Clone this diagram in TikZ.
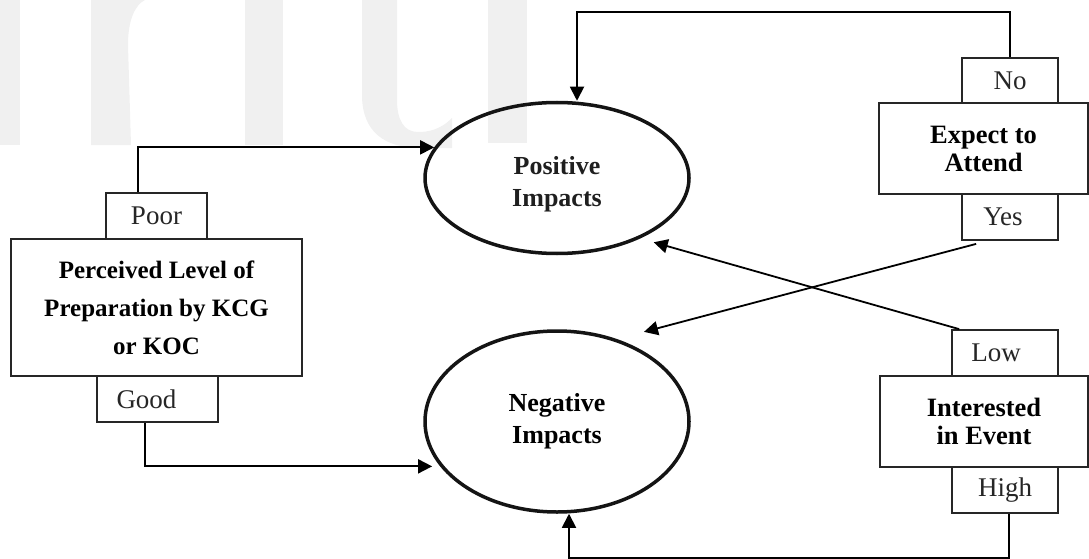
\documentclass[tikz,border=0pt]{standalone}
\usepackage{fontspec}
\setmainfont{Liberation Serif}
\usetikzlibrary{shapes.geometric,arrows.meta}
\tikzset{
  wm/.style={fill=black!6, draw=none},
  box/.style={draw=black!85, line width=1.8pt, inner sep=0pt, align=center, text=black!85},
  labtxt/.style={font=\fontsize{27}{30}\selectfont},
  headtxt/.style={font=\fontsize{26.5}{28}\selectfont\bfseries},
  ell/.style={ellipse, draw=black!92, line width=3.5pt, inner sep=0pt},
  arr/.style={draw=black, line width=1.8pt, -{Triangle[length=14pt,width=14pt]}},
}
\begin{document}
\begin{tikzpicture}[x=1pt,y=-1pt]
\useasboundingbox (0,0) rectangle (1089,559);
% faint watermark letters
\fill[wm] (0,0) rectangle (20,145);
\fill[wm] (91,0) -- (91,145) -- (131,145) -- (128,45) .. controls (128,20) and (135,5) .. (145,0) -- cycle;
\fill[wm] (245,0) rectangle (283,145);
\fill[wm] (362,0) -- (362,95) .. controls (362,132) and (385,148) .. (420,148) -- (452,148) -- (452,118) .. controls (440,130) and (428,132) .. (418,132) .. controls (404,132) and (397,120) .. (397,100) -- (397,0) -- cycle;
\fill[wm] (488,0) rectangle (527,143);

% ellipses
\node[ell, minimum width=264pt, minimum height=151pt] (Pos) at (557,178) {};
\node[align=center, font=\fontsize{26}{32}\selectfont\bfseries, text=black!88] (PosT) at (557,184) {Positive\\Impacts};
\node[ell, minimum width=264pt, minimum height=181pt, align=center, font=\fontsize{26}{32}\selectfont\bfseries] (Neg) at (557,421.5) {Negative\\Impacts};

% left group
\node[box, labtxt, minimum width=101pt, minimum height=46pt] (Poor) at (156.5,216) {Poor};
\node[box, minimum width=291pt, minimum height=137pt, font=\fontsize{25}{38}\selectfont\bfseries, text=black] (Perc) at (156.5,307.5) {Perceived Level of\\Preparation by KCG\\or KOC};
\node[box, labtxt, minimum width=121pt, minimum height=46pt] (Good) at (157.5,399) {Good\hspace*{22pt}};

% right top group
\node[box, labtxt, minimum width=96pt, minimum height=45pt] (No) at (1010,80.5) {No};
\node[box, headtxt, text=black, minimum width=209pt, minimum height=91pt] (Exp) at (983.5,148.5) {Expect to\\Attend};
\node[box, labtxt, minimum width=96pt, minimum height=46pt] (Yes) at (1010,217) {Yes\hspace*{14pt}};

% right bottom group
\node[box, labtxt, minimum width=106pt, minimum height=46pt] (Low) at (1005,353) {Low\hspace*{18pt}};
\node[box, headtxt, text=black, minimum width=208pt, minimum height=91pt] (Int) at (984,421.5) {Interested\\in Event};
\node[box, labtxt, minimum width=106pt, minimum height=46pt] (High) at (1005,490) {High};

% connectors
\coordinate (t) at (577,12);
\coordinate (b) at (569,558);
\draw[arr] (No.north) |- (t) -- (t |- Pos.north);
\draw[arr] ([xshift=-18.5pt]Poor.north) |- (Pos.166.6);
\draw[arr, shorten >=8pt] ([xshift=-12.5pt]Good.south) |- (Neg.201.8);
\draw[arr] ([xshift=4pt]High.south) |- (b) -- (b |- Neg.south);
\draw[arr, shorten >=28pt] ([xshift=15pt,yshift=-3pt]Yes.south west) -- (Neg.54.5);
\draw[arr, shorten >=14pt] ([xshift=8pt]Low.north west) -- (Pos.-36);
\end{tikzpicture}
\end{document}
